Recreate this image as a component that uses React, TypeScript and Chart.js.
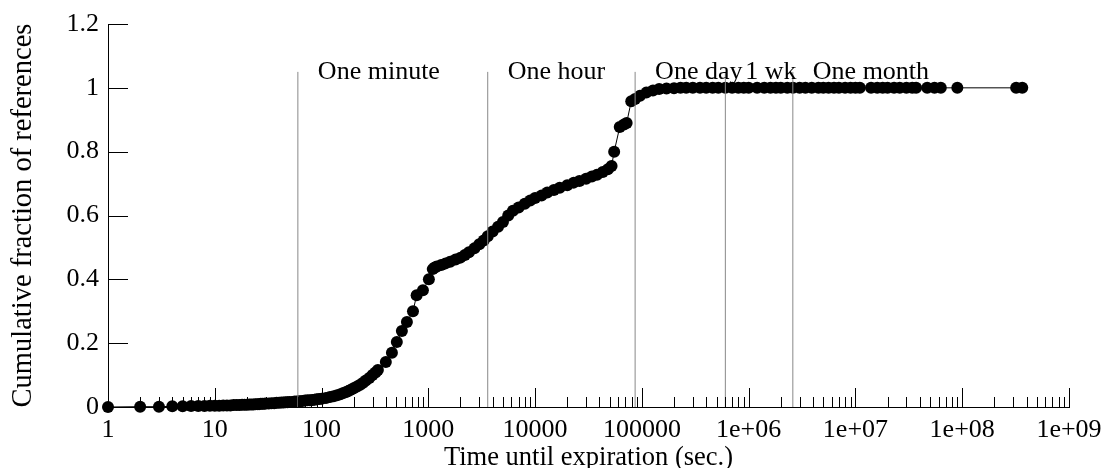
import React, { useEffect, useRef } from "react";
import { Chart, registerables } from "chart.js";

Chart.register(...registerables);

// ---- Data ----
const timesSec: number[] = [
  1, 2, 3, 4, 5, 6, 7, 8, 9, 10, 11, 12, 13, 14, 15, 16, 17, 18, 19, 20,
  21, 22, 23, 24, 25, 26, 27, 28, 29, 30, 32, 34, 36, 38, 40, 42, 44, 46, 48, 50,
  53, 56, 60, 63, 66, 70, 74, 78, 82, 86, 90, 95, 100,
  110, 120, 130, 140, 150, 160, 170, 180, 190, 200, 215, 230, 245, 260, 280, 300,
  320, 337, 400, 456, 507, 565, 630, 718, 777,
  890, 1012, 1100, 1150, 1200, 1320, 1450, 1600, 1800, 2000, 2200,
  2400, 2700, 3000, 3300, 3600, 4000, 4500, 5000, 5600, 6200, 7000, 8000, 9000,
  10000, 11500, 13000, 15000, 17000, 20000, 23000, 26000, 30000, 34000, 38000,
  43000, 48000, 52000, 55000, 62000, 68000, 72000, 79500, 86400, 96000, 110000,
  127000, 145000, 170000, 200000, 230000, 260000, 300000, 350000, 400000, 460000,
  520000, 604800, 700000, 800000, 900000, 1000000, 1200000, 1400000, 1600000,
  1800000, 2000000, 2300000, 2600000, 3000000, 3400000, 3900000, 4500000, 5000000,
  5600000, 6300000, 7000000, 8000000, 9000000, 10000000, 11000000, 14000000,
  16000000, 18000000, 20000000, 23000000, 26000000, 30000000, 34000000, 37000000,
  47000000, 55000000, 63000000, 90000000, 320000000, 365000000,
];

const cumFraction: number[] = [
  0, 0.001, 0.001, 0.002, 0.002, 0.003, 0.003, 0.003, 0.004, 0.004, 0.004, 0.005, 0.005, 0.005, 0.006, 0.006, 0.006, 0.007, 0.007, 0.007,
  0.008, 0.008, 0.008, 0.009, 0.009, 0.009, 0.01, 0.01, 0.01, 0.011, 0.011, 0.012, 0.012, 0.013, 0.013, 0.014, 0.014, 0.015, 0.015, 0.016,
  0.016, 0.017, 0.018, 0.018, 0.019, 0.02, 0.021, 0.021, 0.022, 0.023, 0.024, 0.025, 0.026,
  0.028, 0.031, 0.034, 0.037, 0.04, 0.044, 0.047, 0.051, 0.055, 0.059, 0.064, 0.07, 0.076, 0.083, 0.091, 0.1,
  0.108, 0.116, 0.141, 0.17, 0.204, 0.238, 0.266, 0.3, 0.35,
  0.366, 0.4, 0.432, 0.437, 0.44, 0.445, 0.45, 0.455, 0.462, 0.468, 0.476,
  0.485, 0.497, 0.51, 0.522, 0.535, 0.55, 0.565, 0.58, 0.6, 0.615, 0.625, 0.637, 0.647,
  0.655, 0.663, 0.672, 0.68, 0.687, 0.695, 0.703, 0.708, 0.715, 0.722, 0.728,
  0.736, 0.745, 0.755, 0.8, 0.877, 0.885, 0.89, 0.958, 0.965, 0.975, 0.985,
  0.992, 0.996, 0.998, 0.999, 1, 1, 1, 1, 1, 1,
  1, 1, 1, 1, 1, 1, 1, 1, 1,
  1, 1, 1, 1, 1, 1, 1, 1,
  1, 1, 1, 1, 1, 1, 1, 1,
  1, 1, 1, 1, 1, 1, 1, 1, 1, 1,
  1, 1, 1, 1, 1, 1,
];

const markerTimes: number[] = [60, 3600, 86400, 604800, 2592000];
const markerLabels: string[] = ["One minute", "One hour", "One day", "1 wk", "One month"];
const markerTop = 1.05;

const xTickValues: number[] = [1, 10, 100, 1000, 10000, 100000, 1e6, 1e7, 1e8, 1e9];
const xTickLabels: string[] = ["1", "10", "100", "1000", "10000", "100000", "1e+06", "1e+07", "1e+08", "1e+09"];
const minorMultipliers: number[] = [2, 3, 4, 5, 6, 7, 8, 9];
const yTickValues: number[] = [0, 0.2, 0.4, 0.6, 0.8, 1, 1.2];
const yTickLabels: string[] = ["0", "0.2", "0.4", "0.6", "0.8", "1", "1.2"];

const xTitle = "Time until expiration (sec.)";
const yTitle = "Cumulative fraction of references";

const FONT_FAMILY = '"Liberation Serif", "Times New Roman", serif';
const FS = 26;

const decorPlugin = {
  id: "decor",
  afterDatasetsDraw(chart: any) {
    const { ctx, chartArea } = chart;
    const x = chart.scales.x;
    const y = chart.scales.y;
    ctx.save();
    // marker labels
    ctx.font = `${FS}px ${FONT_FAMILY}`;
    ctx.fillStyle = "#000";
    ctx.textAlign = "left";
    ctx.textBaseline = "middle";
    markerTimes.forEach((t, i) => {
      ctx.fillText(markerLabels[i], x.getPixelForValue(t) + 20, y.getPixelForValue(markerTop));
    });
    // inward tick marks
    ctx.strokeStyle = "#000";
    ctx.lineWidth = 1;
    ctx.beginPath();
    const b = chartArea.bottom;
    xTickValues.forEach((v) => {
      const px = Math.round(x.getPixelForValue(v)) + 0.5;
      ctx.moveTo(px, b);
      ctx.lineTo(px, b - 19);
    });
    xTickValues.slice(0, -1).forEach((v) => {
      minorMultipliers.forEach((m) => {
        const px = Math.round(x.getPixelForValue(v * m)) + 0.5;
        ctx.moveTo(px, b);
        ctx.lineTo(px, b - 10);
      });
    });
    const l = chartArea.left;
    yTickValues.forEach((v) => {
      const py = Math.round(y.getPixelForValue(v)) + 0.5;
      ctx.moveTo(l, py);
      ctx.lineTo(l + 20, py);
    });
    ctx.stroke();
    ctx.restore();
  },
};

export default function App() {
  const ref = useRef<HTMLCanvasElement | null>(null);

  useEffect(() => {
    if (!ref.current) return;
    const font = { family: FONT_FAMILY, size: FS };
    const markerSets = markerTimes.map((t) => ({
      data: [
        { x: t, y: 0 },
        { x: t, y: markerTop },
      ],
      borderColor: "#888",
      borderWidth: 1,
      pointRadius: 0,
      order: 0,
      clip: false as any,
    }));
    const chart = new Chart(ref.current, {
      type: "line",
      data: {
        datasets: [
          ...markerSets,
          {
            data: timesSec.map((t, i) => ({ x: t, y: cumFraction[i] })),
            borderColor: "#000",
            borderWidth: 1,
            backgroundColor: "#000",
            pointBackgroundColor: "#000",
            pointBorderWidth: 0,
            pointRadius: 6,
            tension: 0,
            order: 1,
            clip: false as any,
          },
        ],
      },
      options: {
        animation: false,
        responsive: false,
        layout: { padding: { top: 24, right: 35, left: 0, bottom: 0 } },
        plugins: { legend: { display: false }, tooltip: { enabled: false } },
        scales: {
          x: {
            type: "logarithmic",
            min: 1,
            max: 1e9,
            position: "bottom",
            grid: { display: false, drawTicks: false },
            border: { display: true, color: "#000", width: 1 },
            ticks: {
              font,
              color: "#000",
              padding: 8,
              autoSkip: false,
              maxRotation: 0,
              callback: (v: any) => {
                const i = xTickValues.indexOf(Number(v));
                return i >= 0 ? xTickLabels[i] : "";
              },
            },
            afterBuildTicks: (s: any) => {
              s.ticks = xTickValues.map((v) => ({ value: v }));
            },
            afterFit: (s: any) => {
              s.height = 61;
              s.paddingLeft = 0;
              s.paddingRight = 0;
            },
            title: {
              display: true,
              text: xTitle,
              font: { family: FONT_FAMILY, size: 26.5 },
              color: "#000",
              padding: { top: 0, bottom: -6 },
            },
          },
          y: {
            type: "linear",
            min: 0,
            max: 1.2,
            position: "left",
            grid: { display: false, drawTicks: false },
            border: { display: true, color: "#000", width: 1 },
            ticks: {
              font,
              color: "#000",
              padding: 9,
              callback: (v: any) => {
                const i = yTickValues.findIndex((t) => Math.abs(t - Number(v)) < 1e-9);
                return i >= 0 ? yTickLabels[i] : "";
              },
            },
            afterBuildTicks: (s: any) => {
              s.ticks = yTickValues.map((v) => ({ value: v }));
            },
            afterFit: (s: any) => {
              s.width = 108;
              s.paddingTop = 0;
              s.paddingBottom = 0;
            },
            title: {
              display: true,
              text: yTitle,
              font: { family: FONT_FAMILY, size: 28.5 },
              color: "#000",
              padding: { top: 6, bottom: 0 },
            },
          },
        },
      },
      plugins: [decorPlugin],
    } as any);
    return () => chart.destroy();
  }, []);

  return (
    <div style={{ position: "fixed", left: 0, top: 0, width: 1104, height: 468, background: "#fff" }}>
      <canvas ref={ref} width={1104} height={468} style={{ display: "block" }} />
    </div>
  );
}
